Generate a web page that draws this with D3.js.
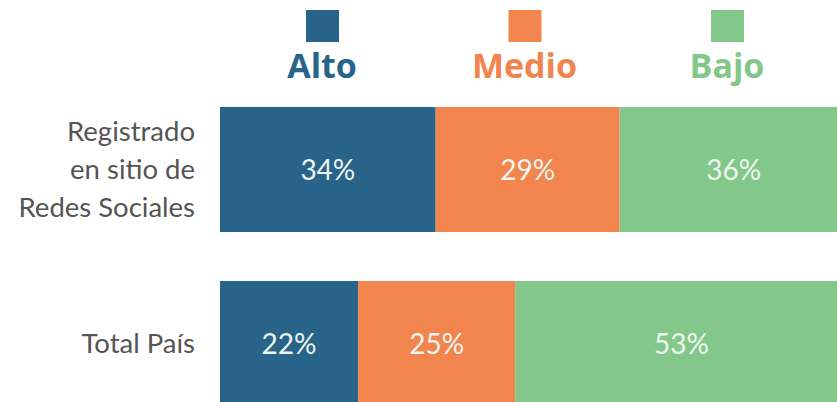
<!DOCTYPE html>
<html>
<head>
<meta charset="utf-8">
<script src="https://cdn.jsdelivr.net/npm/d3@7"></script>
<style>
  body { margin: 0; background: #fff; }
  svg { display: block; }
</style>
</head>
<body>
<div id="chart"></div>
<script>
// data
const niveles = ["Alto", "Medio", "Bajo"];
const colores = ["#28648a", "#f2844e", "#84c78a"];
const filas = ["Registrado en sitio de Redes Sociales", "Total País"];
const filaLineas = [["Registrado", "en sitio de", "Redes Sociales"], ["Total País"]];
const alto = [34, 22];
const medio = [29, 25];
const bajo = [36, 53];

const W = 837, H = 402;

const tabla = filas.map(function (f, i) {
  return { fila: f, Alto: alto[i], Medio: medio[i], Bajo: bajo[i] };
});

const svg = d3.select("#chart").append("svg")
  .attr("width", W)
  .attr("height", H);

// each row stacked to its own total
const series = d3.stack().keys(niveles).offset(d3.stackOffsetExpand)(tabla);

const x = d3.scaleLinear().domain([0, 1]).range([220, 848]);
const y = d3.scaleBand().domain(filas).range([107, 406]).paddingInner(0.2816);
const color = d3.scaleOrdinal().domain(niveles).range(colores);

// bars
const grupos = svg.selectAll("g.serie")
  .data(series)
  .enter()
  .append("g")
  .attr("class", "serie")
  .attr("fill", function (d) { return color(d.key); });

grupos.selectAll("rect")
  .data(function (d) { return d; })
  .enter()
  .append("rect")
  .attr("x", function (d) { return x(d[0]); })
  .attr("y", function (d) { return y(d.data.fila); })
  .attr("width", function (d) { return x(d[1]) - x(d[0]); })
  .attr("height", y.bandwidth());

// value labels
series.forEach(function (s) {
  svg.selectAll(null)
    .data(s)
    .enter()
    .append("text")
    .attr("x", function (d) { return (x(d[0]) + x(d[1])) / 2; })
    .attr("y", function (d) { return y(d.data.fila) + y.bandwidth() / 2; })
    .attr("dy", "0.36em")
    .attr("text-anchor", "middle")
    .attr("font-family", "Lato, 'Open Sans', sans-serif")
    .attr("font-size", 28)
    .attr("fill", "#eef5ee")
    .text(function (d) { return d.data[s.key] + "%"; });
});

// row labels
filas.forEach(function (f, i) {
  const lineas = filaLineas[i];
  const cy = y(f) + y.bandwidth() / 2;
  const paso = 38;
  svg.append("g")
    .selectAll("text")
    .data(lineas)
    .enter()
    .append("text")
    .attr("x", 195)
    .attr("y", function (d, j) { return cy + (j - (lineas.length - 1) / 2) * paso; })
    .attr("dy", "0.36em")
    .attr("text-anchor", "end")
    .attr("font-family", "Lato, 'Open Sans', sans-serif")
    .attr("font-size", 27.5)
    .attr("fill", "#555")
    .text(function (d) { return d; });
});

// legend
const lx = d3.scalePoint().domain(niveles).range([322, 727]);
const ley = svg.append("g")
  .selectAll("g")
  .data(niveles)
  .enter()
  .append("g")
  .attr("transform", function (d) { return "translate(" + lx(d) + ",0)"; });

ley.append("rect")
  .attr("x", -16)
  .attr("y", 10)
  .attr("width", 33)
  .attr("height", 32)
  .attr("fill", function (d) { return color(d); });

ley.append("text")
  .attr("y", 78)
  .attr("text-anchor", "middle")
  .attr("font-family", "'Open Sans', sans-serif")
  .attr("font-weight", "bold")
  .attr("font-size", 34)
  .attr("fill", function (d) { return color(d); })
  .text(function (d) { return d; });
</script>
</body>
</html>
